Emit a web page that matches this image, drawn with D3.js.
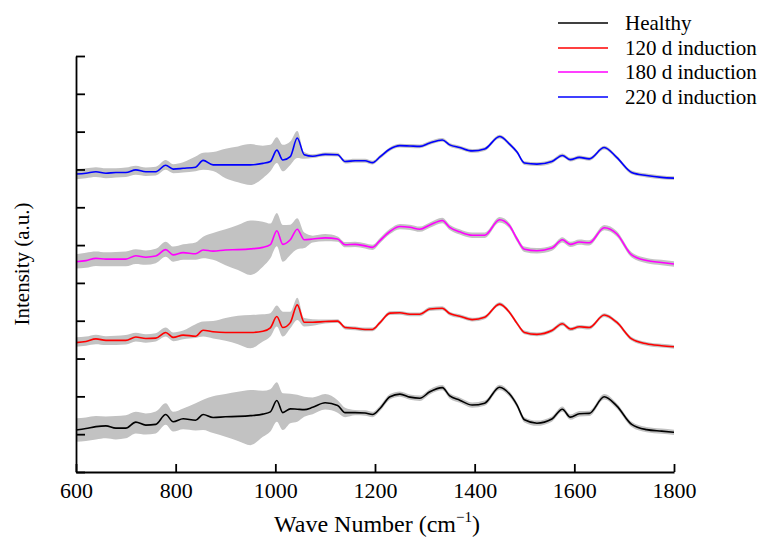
<!DOCTYPE html>
<html>
<head>
<meta charset="utf-8">
<script src="https://cdn.jsdelivr.net/npm/d3@7"></script>
<style>
  body { margin: 0; background: #fff; }
  text { font-family: "Liberation Serif", "Times New Roman", serif; fill: #000; }
</style>
</head>
<body>
<div id="chart"></div>
<script>
// wave numbers shared by all spectra (cm-1)
var waves = [600,620,640,660,680,700,720,740,760,780,795,815,840,855,875,900,925,950,975,990,
  1003,1015,1030,1044,1058,1075,1100,1125,1140,1160,1180,1195,1210,1230,1250,1270,1290,1310,1335,1350,
  1370,1395,1420,1450,1470,1485,1500,1525,1555,1576,1592,1610,1630,1660,1685,1715,1745,1775,1800];

var seriesNames = ["Healthy", "120 d induction", "180 d induction", "220 d induction"];
var seriesColors = ["#000000", "#ff0000", "#ff00ff", "#0000ff"];

// mean spectra (a.u., stacked)
var healthy = [1.11,1.15,1.20,1.22,1.16,1.16,1.32,1.24,1.26,1.52,1.33,1.41,1.37,1.52,1.44,1.46,1.47,1.49,1.53,1.59,
  1.89,1.57,1.67,1.66,1.65,1.71,1.83,1.76,1.57,1.57,1.56,1.52,1.68,1.99,2.06,1.98,1.95,2.12,2.23,2.01,
  1.90,1.77,1.82,2.24,2.06,1.77,1.38,1.29,1.40,1.66,1.45,1.54,1.55,1.99,1.75,1.26,1.12,1.08,1.05];
var d120 = [3.42,3.45,3.52,3.48,3.48,3.48,3.57,3.53,3.54,3.69,3.56,3.62,3.59,3.75,3.71,3.69,3.69,3.69,3.72,3.81,
  4.11,3.82,3.95,4.42,3.96,3.96,3.98,3.99,3.82,3.80,3.77,3.77,3.95,4.20,4.21,4.17,4.17,4.31,4.33,4.19,
  4.12,4.03,4.09,4.44,4.22,3.93,3.69,3.64,3.74,3.92,3.78,3.84,3.82,4.15,3.96,3.52,3.39,3.34,3.31];
var d180 = [5.56,5.59,5.65,5.63,5.63,5.63,5.72,5.68,5.71,5.88,5.74,5.80,5.77,5.87,5.84,5.87,5.88,5.90,5.94,6.01,
  6.38,6.02,6.14,6.42,6.14,6.16,6.19,6.16,6.01,6.02,5.98,5.94,6.12,6.36,6.49,6.47,6.42,6.53,6.65,6.47,
  6.35,6.26,6.26,6.67,6.51,6.16,5.89,5.85,5.92,6.14,6.02,6.08,6.06,6.46,6.30,5.74,5.59,5.54,5.50];
var d220 = [7.88,7.90,7.94,7.90,7.92,7.92,7.99,7.94,7.94,8.11,8.01,8.03,8.06,8.24,8.12,8.12,8.12,8.12,8.16,8.21,
  8.51,8.25,8.34,8.83,8.39,8.35,8.40,8.39,8.21,8.23,8.23,8.18,8.33,8.54,8.63,8.62,8.61,8.70,8.78,8.65,
  8.58,8.49,8.54,8.87,8.67,8.46,8.17,8.14,8.21,8.37,8.26,8.32,8.28,8.58,8.32,7.92,7.84,7.79,7.77];

// spread of the shaded band above / below each mean
var healthyUp = [0.31,0.29,0.28,0.25,0.32,0.34,0.27,0.31,0.34,0.30,0.26,0.27,0.45,0.39,0.56,0.60,0.65,0.68,0.62,0.60,
  0.48,0.51,0.40,0.38,0.34,0.26,0.23,0.14,0.13,0.07,0.07,0.07,0.07,0.07,0.07,0.07,0.07,0.07,0.07,0.07,
  0.07,0.07,0.07,0.07,0.07,0.07,0.07,0.07,0.07,0.07,0.07,0.07,0.07,0.07,0.07,0.07,0.07,0.07,0.07];
var healthyDn = [0.31,0.33,0.34,0.33,0.30,0.27,0.30,0.25,0.24,0.27,0.26,0.28,0.27,0.41,0.41,0.53,0.65,0.78,0.60,0.52,
  0.56,0.46,0.38,0.33,0.19,0.18,0.18,0.19,0.12,0.07,0.07,0.07,0.07,0.07,0.07,0.07,0.07,0.07,0.07,0.07,
  0.07,0.07,0.07,0.07,0.07,0.07,0.07,0.07,0.07,0.07,0.07,0.07,0.07,0.07,0.07,0.07,0.07,0.07,0.07];
var d120Up = [0.14,0.13,0.11,0.11,0.12,0.14,0.11,0.11,0.13,0.13,0.13,0.12,0.32,0.23,0.28,0.38,0.44,0.46,0.45,0.39,
  0.29,0.42,0.29,0.19,0.11,0.08,0.05,0.05,0.05,0.05,0.05,0.05,0.05,0.05,0.05,0.05,0.05,0.05,0.05,0.05,
  0.05,0.05,0.05,0.05,0.05,0.05,0.05,0.05,0.05,0.05,0.05,0.05,0.05,0.05,0.05,0.05,0.05,0.05,0.05];
var d120Dn = [0.11,0.11,0.14,0.12,0.12,0.11,0.12,0.11,0.09,0.11,0.10,0.11,0.05,0.17,0.18,0.22,0.31,0.42,0.27,0.23,
  0.26,0.24,0.15,0.40,0.11,0.09,0.05,0.05,0.05,0.05,0.05,0.05,0.05,0.05,0.05,0.05,0.05,0.05,0.05,0.05,
  0.05,0.05,0.05,0.05,0.05,0.05,0.05,0.05,0.05,0.05,0.05,0.05,0.05,0.05,0.05,0.05,0.05,0.05,0.05];
var d180Up = [0.20,0.21,0.18,0.18,0.19,0.20,0.17,0.18,0.19,0.21,0.22,0.22,0.30,0.35,0.48,0.55,0.65,0.75,0.68,0.56,
  0.47,0.51,0.40,0.29,0.19,0.09,0.10,0.07,0.07,0.07,0.07,0.07,0.07,0.07,0.07,0.07,0.07,0.07,0.07,0.07,
  0.07,0.07,0.07,0.07,0.07,0.07,0.07,0.07,0.07,0.07,0.07,0.07,0.07,0.07,0.07,0.07,0.07,0.07,0.07];
var d180Dn = [0.18,0.19,0.20,0.19,0.19,0.19,0.22,0.20,0.19,0.19,0.18,0.19,0.16,0.22,0.23,0.40,0.54,0.69,0.51,0.36,
  0.41,0.46,0.40,0.53,0.22,0.09,0.09,0.07,0.07,0.07,0.07,0.07,0.07,0.07,0.07,0.07,0.07,0.07,0.07,0.07,
  0.07,0.07,0.07,0.07,0.07,0.07,0.07,0.07,0.07,0.07,0.07,0.07,0.07,0.07,0.07,0.07,0.07,0.07,0.07];
var d220Up = [0.13,0.13,0.12,0.13,0.11,0.13,0.11,0.11,0.13,0.14,0.13,0.16,0.28,0.20,0.34,0.43,0.49,0.55,0.47,0.44,
  0.34,0.40,0.40,0.19,0.07,0.05,0.05,0.05,0.05,0.05,0.05,0.05,0.05,0.05,0.05,0.05,0.05,0.05,0.05,0.05,
  0.05,0.05,0.05,0.05,0.05,0.05,0.05,0.05,0.05,0.05,0.05,0.05,0.05,0.05,0.05,0.05,0.05,0.05,0.05];
var d220Dn = [0.14,0.13,0.14,0.13,0.13,0.12,0.13,0.11,0.10,0.12,0.11,0.11,0.11,0.25,0.16,0.35,0.46,0.53,0.39,0.26,
  0.34,0.30,0.22,0.53,0.11,0.05,0.05,0.05,0.05,0.05,0.05,0.05,0.05,0.05,0.05,0.05,0.05,0.05,0.05,0.05,
  0.05,0.05,0.05,0.05,0.05,0.05,0.05,0.05,0.05,0.05,0.05,0.05,0.05,0.05,0.05,0.05,0.05,0.05,0.05];

var xTicks = [600, 800, 1000, 1200, 1400, 1600, 1800];
var yTicks = [0,1,2,3,4,5,6,7,8,9,10,11];

window.onload = function(){
	var w = 769, h = 539;
	var left = 76, right = 674, top = 56, bottom = 472;

	var svg = d3.select("#chart")
		.append("svg")
		.attr("width", w)
		.attr("height", h);

	var x = d3.scaleLinear().domain([600, 1800]).range([left, right]);
	var y = d3.scaleLinear().domain([0, 11]).range([bottom, top]);

	var means = [healthy, d120, d180, d220];
	var ups = [healthyUp, d120Up, d180Up, d220Up];
	var dns = [healthyDn, d120Dn, d180Dn, d220Dn];

	var band = d3.area()
		.x(function(d){ return x(d.w); })
		.y0(function(d){ return y(d.m - d.dn); })
		.y1(function(d){ return y(d.m + d.up); })
		.curve(d3.curveMonotoneX);

	var line = d3.line()
		.x(function(d){ return x(d.w); })
		.y(function(d){ return y(d.m); })
		.curve(d3.curveMonotoneX);

	var plot = svg.append("g");

	means.forEach(function(m, i){
		var pts = waves.map(function(wv, j){
			return { w: wv, m: m[j], up: ups[i][j], dn: dns[i][j] };
		});
		plot.append("path")
			.datum(pts)
			.attr("d", band)
			.attr("fill", "#c2c2c2")
			.attr("stroke", "none");
		plot.append("path")
			.datum(pts)
			.attr("d", line)
			.attr("fill", "none")
			.attr("stroke", seriesColors[i])
			.attr("stroke-width", 1.6)
			.attr("stroke-linejoin", "round");
	});

	// axes
	var xAxis = svg.append("g")
		.attr("transform", "translate(0," + bottom + ")")
		.call(d3.axisBottom(x).tickValues(xTicks).tickSize(-8).tickSizeOuter(0).tickPadding(10).tickFormat(d3.format("d")));
	xAxis.selectAll("text").style("font-size", "22px");

	var yAxis = svg.append("g")
		.attr("transform", "translate(" + left + ",0)")
		.call(d3.axisLeft(y).tickValues(yTicks).tickSize(-9).tickSizeOuter(0).tickFormat(""));

	svg.selectAll(".domain, .tick line")
		.attr("stroke", "#000")
		.attr("stroke-width", 1.8);

	// axis titles
	var xt = svg.append("text")
		.attr("x", (left + right) / 2 + 2)
		.attr("y", 532)
		.attr("text-anchor", "middle")
		.style("font-size", "24px");
	xt.append("tspan").text("Wave Number (cm");
	xt.append("tspan").attr("dy", -10).style("font-size", "15px").text("\u22121");
	xt.append("tspan").attr("dy", 10).text(")");

	svg.append("text")
		.attr("transform", "translate(29,264) rotate(-90)")
		.attr("text-anchor", "middle")
		.style("font-size", "21px")
		.text("Intensity (a.u.)");

	// legend
	var legend = svg.append("g");
	var rowY = [23, 48, 72, 97];
	seriesNames.forEach(function(name, i){
		legend.append("line")
			.attr("x1", 558).attr("x2", 608)
			.attr("y1", rowY[i]).attr("y2", rowY[i])
			.attr("stroke", seriesColors[i])
			.attr("stroke-width", 1.6);
		legend.append("text")
			.attr("x", 625)
			.attr("y", rowY[i])
			.attr("dy", "0.35em")
			.style("font-size", "21px")
			.text(name);
	});
}
</script>
</body>
</html>
